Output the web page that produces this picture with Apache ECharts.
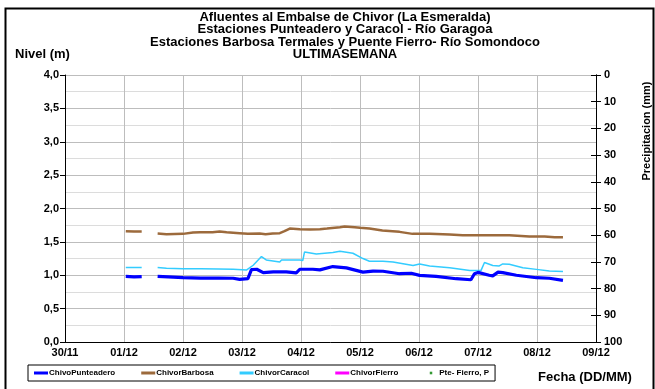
<!DOCTYPE html>
<html>
<head>
<meta charset="utf-8">
<script src="https://cdn.jsdelivr.net/npm/echarts@6/dist/echarts.min.js"></script>
<style>
  html, body { margin: 0; padding: 0; background: #fff; }
  #chart { width: 655px; height: 389px; }
</style>
</head>
<body>
<div id="chart"></div>
<script>
// Day labels along the time axis (day offset 0 = 30/11 00:00)
const dayLabels = ['30/11', '01/12', '02/12', '03/12', '04/12', '05/12', '06/12', '07/12', '08/12', '09/12'];

// Water level (m) readings as [day offset, level]; null marks a gap in the record
const punteadero = [
  [1.03, 0.983], [1.17, 0.975], [1.30, 0.98], [1.31, null],
  [1.57, 0.983], [1.75, 0.975], [2.00, 0.963], [2.30, 0.958], [2.60, 0.958], [2.85, 0.955],
  [2.96, 0.938], [3.10, 0.95], [3.16, 1.083], [3.25, 1.09], [3.36, 1.038], [3.53, 1.05],
  [3.75, 1.05], [3.92, 1.035], [3.98, 1.09], [4.20, 1.09], [4.32, 1.08], [4.54, 1.13],
  [4.77, 1.11], [5.05, 1.047], [5.22, 1.062], [5.39, 1.06], [5.67, 1.023], [5.87, 1.03],
  [6.01, 0.998], [6.29, 0.983], [6.63, 0.948], [6.88, 0.933], [6.94, 1.023], [7.00, 1.043],
  [7.19, 1.0], [7.25, 0.99], [7.34, 1.047], [7.42, 1.04], [7.65, 1.0], [7.99, 0.963],
  [8.21, 0.955], [8.44, 0.923]
];
const barbosa = [
  [1.03, 1.66], [1.17, 1.655], [1.30, 1.655], [1.31, null],
  [1.57, 1.625], [1.72, 1.615], [2.00, 1.62], [2.17, 1.64], [2.29, 1.645], [2.50, 1.645],
  [2.62, 1.655], [2.74, 1.645], [2.96, 1.63], [3.10, 1.62], [3.30, 1.625], [3.40, 1.615],
  [3.52, 1.625], [3.64, 1.63], [3.72, 1.66], [3.81, 1.70], [3.98, 1.69], [4.15, 1.685],
  [4.32, 1.69], [4.44, 1.70], [4.66, 1.72], [4.74, 1.73], [4.91, 1.72], [5.00, 1.71],
  [5.16, 1.70], [5.38, 1.67], [5.67, 1.65], [5.89, 1.62], [6.18, 1.62], [6.52, 1.61],
  [6.74, 1.60], [7.02, 1.60], [7.53, 1.60], [7.87, 1.58], [8.13, 1.58], [8.30, 1.57],
  [8.44, 1.57]
];
const caracol = [
  [1.03, 1.117], [1.17, 1.115], [1.30, 1.115], [1.31, null],
  [1.57, 1.117], [1.72, 1.105], [2.00, 1.098], [2.30, 1.098], [2.60, 1.095], [2.85, 1.09],
  [3.08, 1.08], [3.19, 1.15], [3.33, 1.28], [3.41, 1.23], [3.64, 1.20], [3.67, 1.23],
  [3.98, 1.23], [4.03, 1.22], [4.06, 1.35], [4.26, 1.32], [4.54, 1.34], [4.66, 1.36],
  [4.88, 1.33], [5.05, 1.25], [5.16, 1.21], [5.39, 1.21], [5.56, 1.20], [5.90, 1.147],
  [6.01, 1.17], [6.18, 1.137], [6.52, 1.113], [6.86, 1.07], [7.05, 1.07], [7.11, 1.19],
  [7.25, 1.147], [7.36, 1.14], [7.42, 1.17], [7.53, 1.165], [7.76, 1.113], [7.99, 1.088],
  [8.21, 1.062], [8.44, 1.057]
];
const fierro = [];
const fierroRain = [];

const seriesNames = ['ChivoPunteadero', 'ChivorBarbosa', 'ChivorCaracol', 'ChivorFierro', 'Pte- Fierro, P'];
const titleLines = [
  'Afluentes al Embalse de Chivor (La Esmeralda)',
  'Estaciones Punteadero y Caracol - Río Garagoa',
  'Estaciones Barbosa Termales y Puente Fierro- Río Somondoco',
  'ULTIMASEMANA'
];

const FONT = '"Liberation Sans", Arial, sans-serif';
const chart = echarts.init(document.getElementById('chart'), null, { renderer: 'canvas' });

const tickLabel = { fontFamily: FONT, fontWeight: 'bold', fontSize: 11, color: '#000' };

const rightAxisBase = {
  type: 'value', position: 'right', min: 0, max: 100, interval: 10, inverse: true,
  axisLine: { show: true, lineStyle: { color: '#000', width: 1 } },
  splitLine: { show: false }
};

const titleTexts = titleLines.map((t, i) => ({
  type: 'text', x: 345, y: 17 + i * 12.5, silent: true,
  style: { text: t, fill: '#000', font: 'bold 13px ' + FONT, textAlign: 'center', textVerticalAlign: 'middle' }
}));

// legend marker for the rain series: a small square inside a 14x3 box
const dotIcon = 'path://M0,1.5L0,1.5M14,1.5L14,1.5M5.5,0.2H8V2.8H5.5Z';

chart.setOption({
  animation: false,
  backgroundColor: '#fff',
  grid: { left: 65, right: 59, top: 75, bottom: 47, containLabel: false },
  xAxis: {
    type: 'value', min: 0, max: 9, interval: 1,
    axisLine: { show: true, onZero: false, lineStyle: { color: '#000', width: 1 } },
    axisTick: { show: false },
    axisLabel: Object.assign({ margin: 5, formatter: v => dayLabels[Math.round(v)] }, tickLabel),
    splitLine: { show: true, lineStyle: { color: '#bdbdbd', width: 1 } }
  },
  yAxis: [
    {
      type: 'value', min: 0, max: 4, interval: 0.5,
      axisLine: { show: true, lineStyle: { color: '#000', width: 1 } },
      axisTick: { show: true, length: 5, lineStyle: { color: '#000' } },
      axisLabel: Object.assign({ margin: 6, formatter: v => v.toFixed(1).replace('.', ',') }, tickLabel),
      splitLine: { show: true, lineStyle: { color: '#bdbdbd', width: 1 } },
      minorTick: { show: false, splitNumber: 2 },
      minorSplitLine: { show: true, lineStyle: { color: '#dcdcdc', width: 1 } }
    },
    Object.assign({}, rightAxisBase, {
      axisTick: { show: true, length: 5, lineStyle: { color: '#000' } },
      axisLabel: Object.assign({ margin: 8 }, tickLabel)
    }),
    Object.assign({}, rightAxisBase, {
      axisTick: { show: true, inside: true, length: 5, lineStyle: { color: '#000' } },
      axisLabel: { show: false }
    })
  ],
  legend: {
    left: 28, top: 365,
    orient: 'horizontal',
    itemWidth: 14, itemHeight: 3, itemGap: 26,
    padding: [4, 6],
    borderColor: '#000', borderWidth: 1, borderRadius: 0,
    textStyle: { fontFamily: FONT, fontWeight: 'bold', fontSize: 8, color: '#000', padding: [0, 0, 0, -4] },
    data: seriesNames.map((n, i) => ({ name: n, icon: i === 4 ? dotIcon : 'rect' }))
  },
  series: [
    { name: seriesNames[1], type: 'line', yAxisIndex: 0, data: barbosa, showSymbol: false, connectNulls: false,
      lineStyle: { color: '#9c6a3c', width: 2.5 }, itemStyle: { color: '#9c6a3c' } },
    { name: seriesNames[2], type: 'line', yAxisIndex: 0, data: caracol, showSymbol: false, connectNulls: false,
      lineStyle: { color: '#33ccff', width: 1.5 }, itemStyle: { color: '#33ccff' } },
    { name: seriesNames[0], type: 'line', yAxisIndex: 0, data: punteadero, showSymbol: false, connectNulls: false,
      lineStyle: { color: '#0000ff', width: 3.2 }, itemStyle: { color: '#0000ff' } },
    { name: seriesNames[3], type: 'line', yAxisIndex: 0, data: fierro, showSymbol: false,
      lineStyle: { color: '#ff00ff', width: 2.5 }, itemStyle: { color: '#ff00ff' } },
    { name: seriesNames[4], type: 'scatter', yAxisIndex: 1, data: fierroRain, symbol: 'rect', symbolSize: 3,
      itemStyle: { color: '#008000' } }
  ],
  graphic: [
    // outer frame
    { type: 'rect', left: 3, top: 6, shape: { width: 648, height: 390 },
      style: { fill: 'none', stroke: '#000', lineWidth: 2 }, silent: true },
    { type: 'text', x: 15, y: 54.5, silent: true,
      style: { text: 'Nivel (m)', fill: '#000', font: 'bold 13px ' + FONT, textVerticalAlign: 'middle' } },
    { type: 'text', x: 647, y: 131, rotation: Math.PI / 2, silent: true,
      style: { text: 'Precipitacion (mm)', fill: '#000', font: 'bold 11px ' + FONT, textAlign: 'center', textVerticalAlign: 'middle' } },
    { type: 'text', x: 538, y: 377, silent: true,
      style: { text: 'Fecha (DD/MM)', fill: '#000', font: 'bold 13px ' + FONT, textVerticalAlign: 'middle' } }
  ].concat(titleTexts)
});
</script>
</body>
</html>
